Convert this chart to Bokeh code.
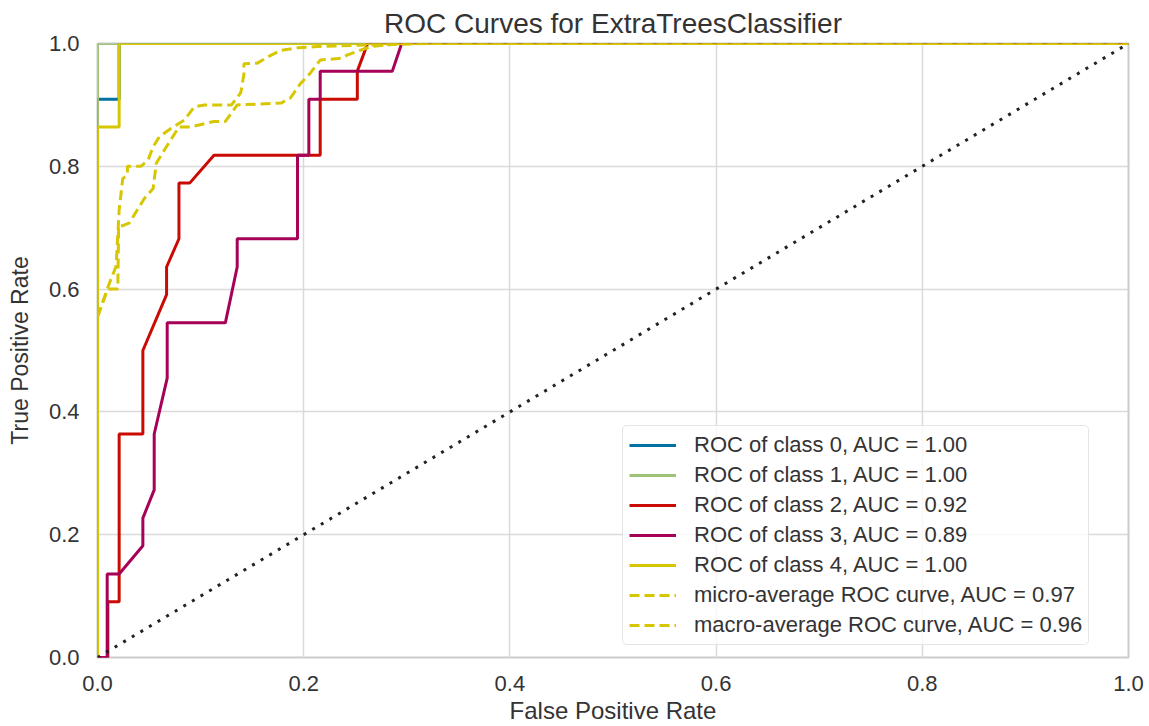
from bokeh.plotting import figure
from bokeh.models import Range1d, FixedTicker, Legend, LegendItem, NumeralTickFormatter
from bokeh.embed import file_html
from bokeh.resources import INLINE

# ---- data ----
fpr_class0 = [0.0, 0.0, 0.021, 0.021, 1.0]
tpr_class0 = [0.0, 0.909, 0.909, 1.0, 1.0]

fpr_class1 = [0.0, 0.0, 1.0]
tpr_class1 = [0.0, 1.0, 1.0]

fpr_class2 = [0.0, 0.01, 0.01, 0.021, 0.021, 0.044, 0.044, 0.067, 0.067, 0.079, 0.079,
              0.0896, 0.113, 0.216, 0.216, 0.252, 0.252, 0.262, 1.0]
tpr_class2 = [0.0, 0.0, 0.091, 0.091, 0.364, 0.364, 0.5, 0.591, 0.636, 0.682, 0.773,
              0.773, 0.818, 0.818, 0.909, 0.909, 0.955, 1.0, 1.0]

fpr_class3 = [0.0, 0.0094, 0.0094, 0.021, 0.044, 0.044, 0.055, 0.055, 0.0676, 0.0676,
              0.124, 0.1355, 0.1355, 0.194, 0.194, 0.205, 0.205, 0.216, 0.216, 0.286, 0.295, 1.0]
tpr_class3 = [0.0, 0.0, 0.136, 0.136, 0.182, 0.227, 0.273, 0.364, 0.455, 0.545,
              0.545, 0.636, 0.682, 0.682, 0.818, 0.818, 0.909, 0.909, 0.955, 0.955, 1.0, 1.0]

fpr_class4 = [0.0, 0.0, 0.021, 0.021, 1.0]
tpr_class4 = [0.0, 0.864, 0.864, 1.0, 1.0]

fpr_micro = [0.0, 0.0116, 0.018, 0.021, 0.0245, 0.029, 0.029, 0.042, 0.049, 0.054, 0.06,
             0.0715, 0.084, 0.094, 0.104, 0.13, 0.139, 0.142, 0.142, 0.155, 0.165, 0.178,
             0.194, 0.213, 0.25, 0.32, 1.0]
tpr_micro = [0.555, 0.61, 0.637, 0.729, 0.78, 0.786, 0.8, 0.8, 0.81, 0.832, 0.848,
             0.862, 0.875, 0.897, 0.9, 0.9, 0.92, 0.95, 0.967, 0.968, 0.978, 0.989,
             0.993, 0.995, 0.997, 1.0, 1.0]

fpr_macro = [0.0, 0.01, 0.0197, 0.0205, 0.024, 0.031, 0.0456, 0.054, 0.057, 0.065, 0.079,
             0.0896, 0.113, 0.124, 0.1355, 0.178, 0.187, 0.197, 0.206, 0.216, 0.236, 0.242,
             0.255, 0.265, 0.29, 0.3, 1.0]
tpr_macro = [0.555, 0.6, 0.6, 0.703, 0.703, 0.708, 0.748, 0.764, 0.805, 0.827, 0.864,
             0.864, 0.873, 0.873, 0.9, 0.903, 0.911, 0.935, 0.951, 0.973, 0.976, 0.981,
             0.989, 0.995, 0.999, 1.0, 1.0]

diag_x = [0.0, 1.0]
diag_y = [0.0, 1.0]

labels = [
    "ROC of class 0, AUC = 1.00",
    "ROC of class 1, AUC = 1.00",
    "ROC of class 2, AUC = 0.92",
    "ROC of class 3, AUC = 0.89",
    "ROC of class 4, AUC = 1.00",
    "micro-average ROC curve, AUC = 0.97",
    "macro-average ROC curve, AUC = 0.96",
]
colors = ["#0272a2", "#9fc377", "#ca0b03", "#a50258", "#d7c703"]
ticks = [0.0, 0.2, 0.4, 0.6, 0.8, 1.0]

FONT = "Liberation Sans"
TXT = "#333333"

p = figure(width=1149, height=726, output_backend="svg", toolbar_location=None,
           x_range=Range1d(0, 1), y_range=Range1d(0, 1),
           title="ROC Curves for ExtraTreesClassifier",
           min_border_left=97, min_border_right=21, min_border_top=43, min_border_bottom=66)

p.background_fill_color = "white"
p.border_fill_color = "white"
p.outline_line_color = "#cccccc"
p.outline_line_width = 2

p.title.text_font = FONT
p.title.text_font_size = "28px"
p.title.text_font_style = "normal"
p.title.text_color = TXT
p.title.align = "center"
p.title.standoff = 9

for ax in (p.xaxis[0], p.yaxis[0]):
    ax.ticker = FixedTicker(ticks=ticks)
    ax.formatter = NumeralTickFormatter(format="0.0")
    ax.major_tick_line_color = None
    ax.minor_tick_line_color = None
    ax.axis_line_color = None
    ax.major_label_text_font = FONT
    ax.major_label_text_font_size = "22px"
    ax.major_label_text_color = TXT
    ax.axis_label_text_font = FONT
    ax.axis_label_text_font_style = "normal"
    ax.axis_label_text_color = TXT
    ax.major_label_standoff = 12

p.xaxis[0].axis_label_text_font_size = "24px"
p.yaxis[0].axis_label_text_font_size = "23px"
p.xaxis[0].axis_label_standoff = 3
p.yaxis[0].axis_label_standoff = 13

p.xaxis.axis_label = "False Positive Rate"
p.yaxis.axis_label = "True Positive Rate"

p.grid.grid_line_color = "#dadada"
p.grid.grid_line_width = 1.5
p.xgrid.ticker = FixedTicker(ticks=ticks)
p.ygrid.ticker = FixedTicker(ticks=ticks)

series = [
    (fpr_class0, tpr_class0, colors[0], "solid"),
    (fpr_class1, tpr_class1, colors[1], "solid"),
    (fpr_class2, tpr_class2, colors[2], "solid"),
    (fpr_class3, tpr_class3, colors[3], "solid"),
    (fpr_class4, tpr_class4, colors[4], "solid"),
    (fpr_micro, tpr_micro, colors[4], "10 5"),
    (fpr_macro, tpr_macro, colors[4], "10 5"),
]

items = []
for (xs, ys, c, dash), lab in zip(series, labels):
    r = p.line(xs, ys, line_color=c, line_width=3, line_dash=dash)
    items.append(LegendItem(label=lab, renderers=[r]))

p.line(diag_x, diag_y, line_color="#222222", line_width=3, line_dash="3 7")

legend = Legend(items=items, location=(525, 12))
legend.label_text_font = FONT
legend.label_text_font_size = "22px"
legend.label_text_color = TXT
legend.glyph_width = 47
legend.glyph_height = 24
legend.label_height = 24
legend.spacing = 4
legend.padding = 6
legend.margin = 0
legend.label_standoff = 18
legend.border_line_color = "#cccccc"
legend.border_line_width = 1
legend.border_radius = 5
legend.background_fill_color = "white"
legend.background_fill_alpha = 0.8
p.add_layout(legend)

open("out.html", "w").write(file_html(p, INLINE))
